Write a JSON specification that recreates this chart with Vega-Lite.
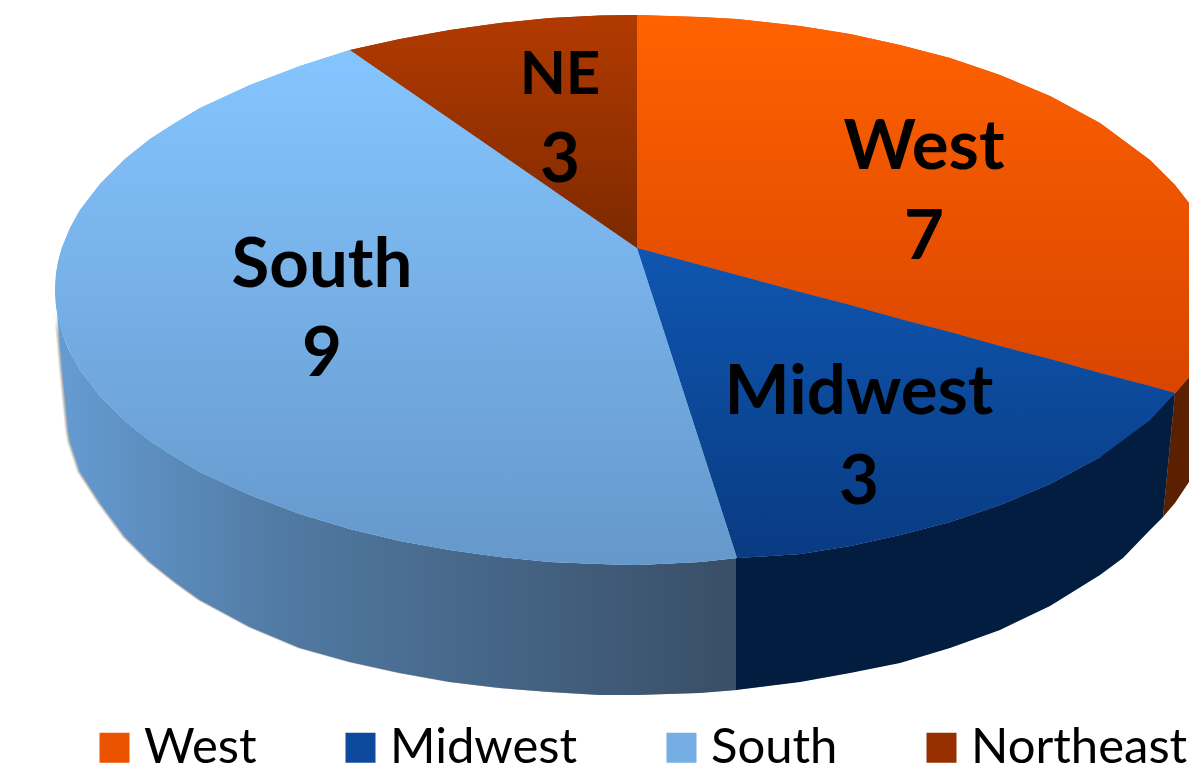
{"$schema":"https://vega.github.io/schema/vega-lite/v6.json","width":1189,"height":773,"padding":0,"autosize":{"type":"none"},"background":"white","config":{"view":{"stroke":null}},
"datasets":{
"side":[
{"part":"South","x":57,"y":312,"y2":312},{"part":"South","x":62,"y":332,"y2":370},{"part":"South","x":68,"y":348,"y2":430},{"part":"South","x":70,"y":352,"y2":442},{"part":"South","x":80,"y":370,"y2":472},{"part":"South","x":100,"y":396,"y2":503},{"part":"South","x":125,"y":421,"y2":537},{"part":"South","x":150,"y":441,"y2":562},{"part":"South","x":175,"y":457,"y2":582},{"part":"South","x":200,"y":472,"y2":600},{"part":"South","x":250,"y":495,"y2":627},{"part":"South","x":300,"y":514,"y2":648},{"part":"South","x":350,"y":529,"y2":662},{"part":"South","x":400,"y":541,"y2":673},{"part":"South","x":450,"y":550,"y2":682},{"part":"South","x":500,"y":557,"y2":688},{"part":"South","x":550,"y":562,"y2":692},{"part":"South","x":600,"y":564,"y2":695},{"part":"South","x":637,"y":565,"y2":695},{"part":"South","x":700,"y":562,"y2":693},{"part":"South","x":737,"y":558,"y2":690},
{"part":"Midwest","x":736,"y":558,"y2":690},{"part":"Midwest","x":800,"y":554,"y2":682},{"part":"Midwest","x":850,"y":546,"y2":673},{"part":"Midwest","x":900,"y":535,"y2":663},{"part":"Midwest","x":950,"y":522,"y2":648},{"part":"Midwest","x":1000,"y":505,"y2":630},{"part":"Midwest","x":1050,"y":484,"y2":606},{"part":"Midwest","x":1100,"y":457,"y2":575},{"part":"Midwest","x":1123,"y":436,"y2":558},{"part":"Midwest","x":1150,"y":418,"y2":530},{"part":"Midwest","x":1163,"y":404,"y2":517},{"part":"Midwest","x":1175,"y":393,"y2":393},
{"part":"West","x":1163,"y":517,"y2":517},{"part":"West","x":1175,"y":393,"y2":503},{"part":"West","x":1189,"y":377,"y2":482}],
"top":[
{"part":"West","x":637,"y":15,"y2":248},{"part":"West","x":700,"y":17,"y2":265},{"part":"West","x":737,"y":19,"y2":275},{"part":"West","x":800,"y":26,"y2":292},{"part":"West","x":850,"y":34,"y2":305},{"part":"West","x":900,"y":45,"y2":319},{"part":"West","x":950,"y":58,"y2":332},{"part":"West","x":1000,"y":75,"y2":346},{"part":"West","x":1050,"y":96,"y2":359},{"part":"West","x":1100,"y":123,"y2":373},{"part":"West","x":1150,"y":160,"y2":386},{"part":"West","x":1175,"y":185,"y2":393},{"part":"West","x":1189,"y":203,"y2":377},
{"part":"Midwest","x":637,"y":248,"y2":248},{"part":"Midwest","x":700,"y":265,"y2":443},{"part":"Midwest","x":737,"y":275,"y2":558},{"part":"Midwest","x":800,"y":292,"y2":554},{"part":"Midwest","x":850,"y":305,"y2":546},{"part":"Midwest","x":900,"y":319,"y2":535},{"part":"Midwest","x":950,"y":332,"y2":522},{"part":"Midwest","x":1000,"y":346,"y2":505},{"part":"Midwest","x":1050,"y":359,"y2":484},{"part":"Midwest","x":1100,"y":373,"y2":457},{"part":"Midwest","x":1150,"y":386,"y2":420},{"part":"Midwest","x":1175,"y":393,"y2":393},
{"part":"South","x":55,"y":290,"y2":290},{"part":"South","x":56,"y":274,"y2":306},{"part":"South","x":58,"y":262,"y2":318},{"part":"South","x":62,"y":247.5,"y2":332},{"part":"South","x":70,"y":228,"y2":352},{"part":"South","x":80,"y":210,"y2":370},{"part":"South","x":100,"y":184,"y2":396},{"part":"South","x":125,"y":159,"y2":421},{"part":"South","x":150,"y":139,"y2":441},{"part":"South","x":175,"y":123,"y2":457},{"part":"South","x":200,"y":108,"y2":472},{"part":"South","x":250,"y":85,"y2":495},{"part":"South","x":300,"y":66,"y2":514},{"part":"South","x":350,"y":50,"y2":529},{"part":"South","x":400,"y":84.5,"y2":541},{"part":"South","x":450,"y":119,"y2":550},{"part":"South","x":500,"y":153.5,"y2":557},{"part":"South","x":550,"y":188,"y2":562},{"part":"South","x":600,"y":222.5,"y2":564},{"part":"South","x":637,"y":248,"y2":565},{"part":"South","x":700,"y":443,"y2":562},{"part":"South","x":737,"y":558,"y2":558},
{"part":"Northeast","x":350,"y":50,"y2":50},{"part":"Northeast","x":400,"y":39,"y2":84.5},{"part":"Northeast","x":450,"y":30,"y2":119},{"part":"Northeast","x":500,"y":23,"y2":153.5},{"part":"Northeast","x":550,"y":18,"y2":188},{"part":"Northeast","x":600,"y":15.6,"y2":222.5},{"part":"Northeast","x":637,"y":15,"y2":248}],
"labels":[
{"text":"West","x":924,"y":148},{"text":"7","x":924,"y":238},
{"text":"Midwest","x":859,"y":393},{"text":"3","x":859,"y":483},
{"text":"South","x":322,"y":266},{"text":"9","x":322,"y":355},
{"text":"3","x":560,"y":161}],
"labelsNE":[{"text":"NE","x":560,"y":76}]
},
"encoding":{
"x":{"field":"x","type":"quantitative","scale":{"domain":[0,1189],"nice":false,"zero":false},"axis":null},
"y":{"field":"y","type":"quantitative","scale":{"domain":[773,0],"nice":false,"zero":false},"axis":null}
},
"layer":[
{"data":{"name":"side"},"mark":{"type":"area","color":"#000000","opacity":0.13,"xOffset":-1,"yOffset":2},"encoding":{"y2":{"field":"y2"},"detail":{"field":"part"}}},
{"data":{"name":"side"},"mark":{"type":"area","color":"#000000","opacity":0.13,"xOffset":-2,"yOffset":4},"encoding":{"y2":{"field":"y2"},"detail":{"field":"part"}}},
{"data":{"name":"side"},"mark":{"type":"area","color":"#000000","opacity":0.1,"xOffset":-3,"yOffset":6},"encoding":{"y2":{"field":"y2"},"detail":{"field":"part"}}},
{"data":{"name":"side"},"transform":[{"filter":"datum.part==='South'"}],"mark":{"type":"area","color":{"gradient":"linear","x1":0,"y1":0,"x2":1,"y2":0,"stops":[{"offset":0,"color":"#659CD3"},{"offset":0.35,"color":"#5078A0"},{"offset":1,"color":"#394E67"}]}},"encoding":{"y2":{"field":"y2"}}},
{"data":{"name":"side"},"transform":[{"filter":"datum.part==='Midwest'"}],"mark":{"type":"area","color":"#021D40"},"encoding":{"y2":{"field":"y2"}}},
{"data":{"name":"side"},"transform":[{"filter":"datum.part==='West'"}],"mark":{"type":"area","color":"#5A2000"},"encoding":{"y2":{"field":"y2"}}},
{"data":{"name":"top"},"mark":{"type":"area"},"encoding":{"y2":{"field":"y2"},
"color":{"field":"part","type":"nominal","scale":{"domain":["West","Midwest","South","Northeast"],"range":["#EC5300","#0D4A9D","#75AEE5","#972F00"]},
"legend":{"title":null,"orient":"none","legendX":90,"legendY":723,"direction":"horizontal","columns":4,"symbolType":"square","symbolSize":900,"symbolStrokeWidth":0,"labelFont":"Lato","labelFontSize":49,"labelColor":"#000000","labelOffset":5,"columnPadding":79,"labelLimit":400,"padding":0,
"encoding":{"symbols":{"fill":{"signal":"{gradient:'linear',x1:0,y1:0,x2:0,y2:1,stops:[{offset:0,color:datum.value==='West'?'#FF6200':datum.value==='Midwest'?'#0F56B0':datum.value==='South'?'#85C5FF':'#B23A00'},{offset:1,color:datum.value==='West'?'#D94500':datum.value==='Midwest'?'#093B82':datum.value==='South'?'#6598CB':'#7C2900'}]}"}}}}}}},
{"data":{"name":"top"},"transform":[{"filter":"datum.part==='West'"}],"mark":{"type":"area","color":{"gradient":"linear","x1":0,"y1":0,"x2":0,"y2":1,"stops":[{"offset":0,"color":"#FF6200"},{"offset":1,"color":"#D94500"}]}},"encoding":{"y2":{"field":"y2"}}},
{"data":{"name":"top"},"transform":[{"filter":"datum.part==='Midwest'"}],"mark":{"type":"area","color":{"gradient":"linear","x1":0,"y1":0,"x2":0,"y2":1,"stops":[{"offset":0,"color":"#0F56B0"},{"offset":1,"color":"#093B82"}]}},"encoding":{"y2":{"field":"y2"}}},
{"data":{"name":"top"},"transform":[{"filter":"datum.part==='South'"}],"mark":{"type":"area","color":{"gradient":"linear","x1":0,"y1":0,"x2":0,"y2":1,"stops":[{"offset":0,"color":"#85C5FF"},{"offset":1,"color":"#6598CB"}]}},"encoding":{"y2":{"field":"y2"}}},
{"data":{"name":"top"},"transform":[{"filter":"datum.part==='Northeast'"}],"mark":{"type":"area","color":{"gradient":"linear","x1":0,"y1":0,"x2":0,"y2":1,"stops":[{"offset":0,"color":"#B23A00"},{"offset":1,"color":"#7C2900"}]}},"encoding":{"y2":{"field":"y2"}}},
{"data":{"name":"labels"},"mark":{"type":"text","font":"Lato","fontWeight":"bold","fontSize":69,"color":"#000000","baseline":"middle","align":"center"},"encoding":{"text":{"field":"text"}}},
{"data":{"name":"labelsNE"},"mark":{"type":"text","font":"Lato","fontWeight":"bold","fontSize":60,"color":"#000000","baseline":"middle","align":"center"},"encoding":{"text":{"field":"text"}}}
]}
